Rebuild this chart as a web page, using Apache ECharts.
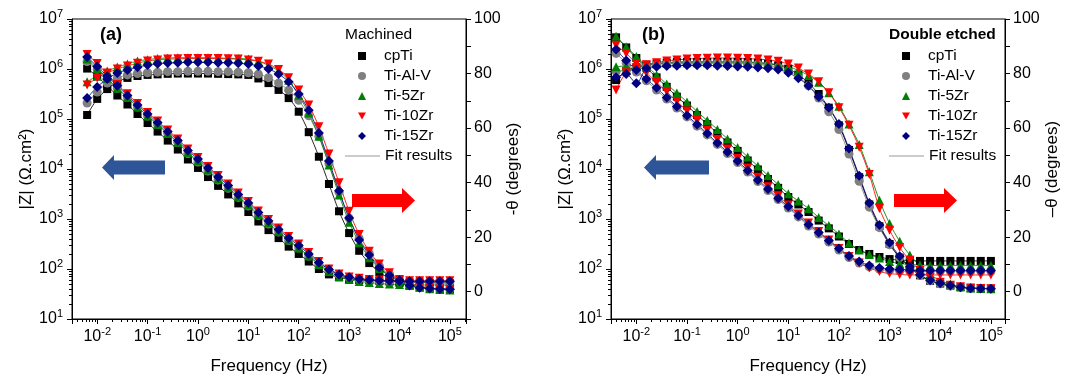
<!DOCTYPE html>
<html>
<head>
<meta charset="utf-8">
<title>Bode plots</title>
<script src="https://cdn.jsdelivr.net/npm/echarts@6.0.0/dist/echarts.min.js"></script>
<style>
  html, body { margin: 0; padding: 0; background: #fff; }
  #chart { width: 1072px; height: 385px; }
</style>
</head>
<body>
<div id="chart"></div>
<script>
  // frequencies (Hz)
  const freqA = [0.00631, 0.01, 0.0158, 0.0251, 0.0398, 0.0631, 0.1, 0.158, 0.251, 0.398, 0.631, 1, 1.58, 2.51, 3.98, 6.31, 10, 15.8, 25.1, 39.8, 63.1, 100, 158, 251, 398, 631, 1000, 1585, 2512, 3981, 6310, 10000, 15850, 25120, 39810, 63100, 100000];
  const freqB = [0.00398, 0.00631, 0.01, 0.0158, 0.0251, 0.0398, 0.0631, 0.1, 0.158, 0.251, 0.398, 0.631, 1, 1.58, 2.51, 3.98, 6.31, 10, 15.8, 25.1, 39.8, 63.1, 100, 158, 251, 398, 631, 1000, 1585, 2512, 3981, 6310, 10000, 15850, 25120, 39810, 63100, 100000];

  // (a) Machined - |Z| (ohm.cm2)
  const zCpTiA = [1.02e6, 7.1e5, 4.6e5, 2.95e5, 1.95e5, 1.26e5, 8.3e4, 5.6e4, 3.7e4, 2.45e4, 1.55e4, 1.05e4, 6.9e3, 4.6e3, 3.1e3, 2.05e3, 1.38e3, 890, 600, 415, 280, 200, 141, 100, 78, 68, 63, 60, 59, 57.5, 56, 55, 54, 54, 53, 53, 52];
  const zTiAlVA = [1.41e6, 9.8e5, 6.3e5, 4.1e5, 2.7e5, 1.74e5, 1.15e5, 7.8e4, 5.1e4, 3.4e4, 2.04e4, 1.38e4, 9.1e3, 6.0e3, 4.1e3, 2.7e3, 1.82e3, 1.17e3, 790, 550, 370, 263, 182, 126, 93, 76, 66, 62, 59, 57.5, 57, 56, 56, 55.5, 55, 55, 55];
  const zTi5ZrA = [1.58e6, 1.02e6, 6.5e5, 4.1e5, 2.7e5, 1.74e5, 1.15e5, 7.8e4, 5.1e4, 3.4e4, 2.14e4, 1.45e4, 9.5e3, 6.3e3, 4.3e3, 2.8e3, 1.9e3, 1.23e3, 830, 560, 380, 263, 182, 123, 89, 71, 62, 56, 54, 51, 50, 49, 49, 48, 48, 48, 48];
  const zTi10ZrA = [1.95e6, 1.29e6, 7.9e5, 4.9e5, 3.2e5, 2.05e5, 1.35e5, 9.1e4, 6.0e4, 4.0e4, 2.5e4, 1.7e4, 1.12e4, 7.4e3, 5.0e3, 3.3e3, 2.24e3, 1.45e3, 980, 660, 447, 316, 214, 141, 100, 79, 69, 65, 62, 60, 59, 58, 58, 58, 58, 58, 58];
  const zTi15ZrA = [1.74e6, 1.12e6, 7.2e5, 4.6e5, 2.95e5, 1.9e5, 1.26e5, 8.5e4, 5.6e4, 3.7e4, 2.35e4, 1.58e4, 1.05e4, 6.9e3, 4.7e3, 3.1e3, 2.1e3, 1.35e3, 910, 620, 415, 295, 200, 135, 98, 78, 68, 63, 60, 59, 58, 57, 57, 57, 57, 57, 57];

  // (a) Machined - phase angle (-theta, degrees)
  const phCpTiA = [64.8, 70.7, 74.3, 76.9, 78.4, 79.1, 79.5, 79.7, 79.9, 80.0, 80.0, 80.0, 80.0, 79.9, 79.8, 79.7, 79.5, 78.2, 76.5, 74.0, 71.0, 66.0, 58.5, 49.5, 39.5, 29.5, 21.5, 15.0, 10.5, 7.2, 4.8, 3.2, 2.2, 1.6, 1.2, 1.0, 0.9];
  const phTiAlVA = [69.2, 73.2, 76.5, 78.4, 79.5, 80.0, 80.3, 80.5, 80.7, 80.7, 80.8, 80.8, 80.8, 80.7, 80.7, 80.5, 80.3, 79.8, 78.5, 76.5, 73.9, 70.2, 64.5, 57.0, 47.0, 36.5, 27.0, 19.5, 14.0, 9.5, 6.5, 4.3, 2.8, 1.9, 1.4, 1.1, 1.0];
  const phTi5ZrA = [77.0, 79.1, 80.9, 82.4, 83.5, 84.6, 85.1, 85.5, 85.7, 85.8, 85.8, 85.8, 85.8, 85.7, 85.6, 85.5, 85.3, 84.5, 83.0, 81.0, 77.5, 72.0, 65.5, 57.0, 46.5, 35.5, 25.5, 18.0, 12.5, 8.5, 5.8, 3.8, 2.4, 1.6, 1.1, 0.8, 0.6];
  const phTi10ZrA = [75.8, 78.4, 80.2, 81.7, 82.8, 83.8, 84.6, 85.0, 85.3, 85.4, 85.5, 85.5, 85.5, 85.5, 85.4, 85.3, 85.0, 84.5, 83.5, 81.5, 78.5, 74.0, 68.5, 60.5, 50.5, 40.0, 29.5, 21.0, 14.8, 10.2, 7.0, 4.5, 3.0, 2.0, 1.4, 1.0, 0.8];
  const phTi15ZrA = [71.0, 75.1, 78.0, 80.2, 81.3, 82.3, 83.1, 83.6, 83.9, 84.0, 84.1, 84.1, 84.1, 84.0, 84.0, 83.8, 83.5, 82.8, 81.7, 79.8, 77.0, 72.5, 66.5, 58.2, 47.9, 37.0, 27.0, 19.0, 13.5, 8.9, 6.0, 4.2, 2.3, 1.5, 1.2, 1.0, 0.9];

  // (b) Double etched - |Z| (ohm.cm2)
  const zCpTiB = [4.3e6, 2.7e6, 1.66e6, 1.05e6, 6.8e5, 4.4e5, 2.8e5, 1.86e5, 1.2e5, 7.9e4, 5.2e4, 3.4e4, 2.3e4, 1.48e4, 9.8e3, 6.3e3, 4.2e3, 2.75e3, 1.95e3, 1.38e3, 930, 650, 447, 316, 240, 200, 174, 158, 151, 148, 145, 145, 145, 145, 145, 145, 145, 145];
  const zTiAlVB = [2.05e6, 1.32e6, 8.7e5, 5.8e5, 3.8e5, 2.5e5, 1.66e5, 1.1e5, 7.2e4, 4.8e4, 3.1e4, 2.04e4, 1.35e4, 8.7e3, 5.6e3, 3.7e3, 2.45e3, 1.66e3, 1.1e3, 725, 500, 347, 240, 170, 132, 110, 98, 93, 91, 89, 89, 89, 89, 89, 89, 89, 89, 89];
  const zTi5ZrB = [4.5e6, 2.8e6, 1.78e6, 1.15e6, 7.6e5, 5.0e5, 3.3e5, 2.2e5, 1.41e5, 9.3e4, 6.2e4, 4.0e4, 2.7e4, 1.74e4, 1.15e4, 7.4e3, 4.9e3, 3.2e3, 2.3e3, 1.62e3, 1.07e3, 740, 500, 331, 240, 195, 166, 141, 129, 123, 120, 118, 117, 117, 117, 117, 117, 117];
  const zTi10ZrB = [3.0e6, 2.05e6, 1.29e6, 8.3e5, 5.4e5, 3.5e5, 2.24e5, 1.45e5, 9.3e4, 6.0e4, 3.9e4, 2.5e4, 1.62e4, 1.05e4, 6.8e3, 4.4e3, 2.9e3, 1.9e3, 1.26e3, 830, 560, 380, 257, 178, 132, 105, 89, 81, 78, 76, 76, 76, 76, 76, 76, 76, 76, 76];
  const zTi15ZrB = [2.45e6, 1.48e6, 9.5e5, 6.3e5, 4.2e5, 2.7e5, 1.78e5, 1.17e5, 7.8e4, 5.1e4, 3.3e4, 2.2e4, 1.45e4, 9.3e3, 6.0e3, 4.0e3, 2.6e3, 1.78e3, 1.17e3, 780, 537, 372, 257, 182, 141, 117, 105, 100, 98, 95, 93, 93, 93, 93, 93, 93, 93, 93];

  // (b) Double etched - phase angle (-theta, degrees)
  const phCpTiB = [77.6, 81.0, 82.3, 83.2, 83.7, 84.0, 84.2, 84.3, 84.3, 84.3, 84.3, 84.3, 84.3, 84.2, 84.0, 83.6, 83.0, 81.8, 79.6, 76.5, 72.5, 67.5, 61.0, 52.0, 42.0, 32.0, 24.0, 17.5, 12.5, 9.0, 6.0, 4.0, 3.0, 2.2, 1.6, 1.3, 1.2, 1.1];
  const phTiAlVB = [80.7, 81.2, 82.0, 82.8, 83.3, 83.6, 83.7, 83.8, 83.8, 83.8, 83.8, 83.8, 83.7, 83.6, 83.4, 83.0, 82.3, 81.0, 78.8, 75.5, 71.0, 66.0, 59.5, 50.5, 40.5, 31.0, 23.5, 17.2, 12.5, 8.8, 6.0, 4.0, 2.9, 2.1, 1.6, 1.3, 1.2, 1.1];
  const phTi5ZrB = [82.5, 82.8, 83.0, 83.3, 83.6, 83.8, 83.9, 84.0, 84.0, 84.0, 84.0, 84.0, 84.0, 84.0, 83.9, 83.7, 83.3, 82.5, 81.2, 79.3, 76.8, 73.0, 68.0, 61.5, 54.0, 44.0, 33.5, 25.0, 18.5, 13.5, 9.5, 6.3, 4.1, 2.8, 1.9, 1.4, 1.2, 1.1];
  const phTi10ZrB = [74.0, 80.3, 81.9, 83.2, 84.0, 84.6, 85.0, 85.3, 85.5, 85.6, 85.7, 85.7, 85.6, 85.5, 85.3, 85.0, 84.5, 83.5, 82.0, 79.8, 77.0, 73.0, 67.5, 61.0, 53.0, 43.0, 30.5, 22.5, 16.2, 11.5, 7.8, 5.2, 3.5, 2.4, 1.8, 1.4, 1.2, 1.1];
  const phTi15ZrB = [78.6, 79.8, 76.4, 81.9, 82.5, 82.8, 82.9, 83.0, 83.0, 83.0, 82.9, 82.8, 82.6, 82.5, 82.2, 81.9, 81.5, 80.3, 78.3, 75.5, 71.5, 67.5, 61.5, 52.5, 42.5, 32.5, 24.5, 18.0, 13.0, 9.2, 6.2, 4.2, 3.1, 2.3, 1.6, 1.3, 1.2, 1.1];

  const names = ['cpTi', 'Ti-Al-V', 'Ti-5Zr', 'Ti-10Zr', 'Ti-15Zr'];
  const colors = ['#000000', '#808080', '#008000', '#ff0000', '#000080'];
  const symbols = ['rect', 'circle', 'triangle', 'triangle', 'diamond'];
  const symbolSizes = [8, 9, 9, 9, 10];
  const symbolRotates = [0, 0, 0, 180, 0];
  // legend icons (down triangle drawn as a path)
  const legendIcons = ['rect', 'circle', 'triangle', 'path://M0,0L10,0L5,9Z', 'diamond'];

  const panels = [
    {freq: freqA, z: [zCpTiA, zTiAlVA, zTi5ZrA, zTi10ZrA, zTi15ZrA], ph: [phCpTiA, phTiAlVA, phTi5ZrA, phTi10ZrA, phTi15ZrA]},
    {freq: freqB, z: [zCpTiB, zTiAlVB, zTi5ZrB, zTi10ZrB, zTi15ZrB], ph: [phCpTiB, phTiAlVB, phTi5ZrB, phTi10ZrB, phTi15ZrB]}
  ];

  const font = 'Liberation Sans, Arial, sans-serif';
  const black = '#000';

  // 10^n labels
  function powLabel(v) {
    const e = Math.log10(v);
    if (Math.abs(e - Math.round(e)) > 1e-6) return '';
    return '{b|10}{s|' + Math.round(e) + '}';
  }
  const powRich = {
    b: {fontSize: 16, lineHeight: 22, color: black, fontFamily: font},
    s: {fontSize: 11, lineHeight: 10, verticalAlign: 'top', color: black, fontFamily: font}
  };

  const grids = [
    {left: 72, top: 19, width: 394, height: 300},
    {left: 611, top: 19, width: 394, height: 300}
  ];

  const xAxis = [0, 1].map(p => ({
    type: 'log',
    logBase: 10,
    gridIndex: p,
    min: 0.00316,
    max: p ? 1.9e5 : 2.09e5,
    name: 'Frequency (Hz)',
    nameLocation: 'middle',
    nameGap: 39,
    nameTextStyle: {fontSize: 17, color: black, fontFamily: font},
    axisLine: {onZero: false, lineStyle: {color: black, width: 1}},
    axisTick: {length: 5, lineStyle: {color: black}},
    minorTick: {show: true, splitNumber: 9, length: 3, lineStyle: {color: black}},
    splitLine: {show: false},
    axisLabel: {margin: 7, formatter: powLabel, rich: powRich}
  }));

  const yAxis = [];
  [0, 1].forEach(p => {
    yAxis.push({
      type: 'log',
      logBase: 10,
      gridIndex: p,
      position: 'left',
      min: 10,
      max: 1e7,
      name: '|Z| (\u03a9.cm\u00b2)',
      nameLocation: 'middle',
      nameGap: 36,
      nameTextStyle: {fontSize: 17, color: black, fontFamily: font},
      axisLine: {show: true, onZero: false, lineStyle: {color: black, width: 1}},
      axisTick: {length: 5, lineStyle: {color: black}},
      minorTick: {show: true, splitNumber: 9, length: 3, lineStyle: {color: black}},
      splitLine: {show: false},
      axisLabel: {margin: 9, formatter: powLabel, rich: powRich}
    });
    yAxis.push({
      type: 'value',
      gridIndex: p,
      position: 'right',
      min: -10,
      max: 100,
      interval: 10,
      name: p ? '\u2013\u03b8 (degrees)' : '-\u03b8 (degrees)',
      nameLocation: 'middle',
      nameRotate: 90,
      nameGap: 30,
      nameTextStyle: {fontSize: 17, color: black, fontFamily: font},
      axisLine: {show: true, onZero: false, lineStyle: {color: black, width: 1}},
      axisTick: {length: 5, lineStyle: {color: black}},
      splitLine: {show: false},
      axisLabel: {
        margin: 8, fontSize: 16, color: black, fontFamily: font,
        formatter: v => (v >= 0 && v % 20 === 0) ? String(v) : ''
      }
    });
  });

  const series = [];
  panels.forEach((panel, p) => {
    // fit results: thin smooth lines through the measured points
    [1, 0, 2, 3, 4].forEach(i => {
      [panel.z[i], panel.ph[i]].forEach((vals, k) => {
        series.push({
          type: 'line',
          name: 'Fit results',
          xAxisIndex: p,
          yAxisIndex: p * 2 + k,
          data: panel.freq.map((f, j) => [f, vals[j]]),
          smooth: 0.3,
          symbol: 'none',
          silent: true,
          z: 2,
          lineStyle: {width: 1, color: colors[i], opacity: 0.85},
          itemStyle: {color: colors[i]}
        });
      });
    });
    // measured points
    names.forEach((name, i) => {
      [panel.z[i], panel.ph[i]].forEach((vals, k) => {
        series.push({
          type: 'scatter',
          name: name,
          xAxisIndex: p,
          yAxisIndex: p * 2 + k,
          data: panel.freq.map((f, j) => [f, vals[j]]),
          symbol: symbols[i],
          symbolSize: symbolSizes[i],
          symbolRotate: symbolRotates[i],
          z: 3,
          itemStyle: {color: colors[i], opacity: 1}
        });
      });
    });
  });

  const legendText = {
    fontSize: 15.5, color: black, fontFamily: font,
    rich: {t: {fontSize: 15.5, lineHeight: 16, padding: [0, 0, 0, 13], color: black, fontFamily: font}}
  };
  const legend = [];
  [345, 889].forEach(left => {
    // sample symbols (small icons, text pushed right to line up with the fit entry)
    legend.push({
      orient: 'vertical',
      left: left + 13,
      top: 48,
      padding: 0,
      itemGap: 4,
      itemWidth: 8,
      itemHeight: 8,
      selectedMode: false,
      formatter: name => '{t|' + name + '}',
      textStyle: legendText,
      data: names.map((name, i) => ({name: name, icon: legendIcons[i], itemStyle: {color: colors[i]}}))
    });
    // fit line entry
    legend.push({
      orient: 'vertical',
      left: left,
      top: 148,
      padding: 0,
      itemWidth: 35,
      itemHeight: 8,
      selectedMode: false,
      textStyle: {fontSize: 15.5, lineHeight: 16, color: black, fontFamily: font},
      data: [{name: 'Fit results', icon: 'path://M0,0L35,0L35,1L0,1Z', itemStyle: {color: '#9a9a9a'}}]
    });
  });

  const title = [
    {text: '(a)', left: 100, top: 26, padding: 0, textStyle: {fontSize: 18, fontWeight: 'bold', color: black, fontFamily: font}},
    {text: '(b)', left: 642, top: 26, padding: 0, textStyle: {fontSize: 18, fontWeight: 'bold', color: black, fontFamily: font}},
    {text: 'Double etched', left: 889, top: 27, padding: 0, textStyle: {fontSize: 15.5, fontWeight: 'bold', color: black, fontFamily: font}}
  ];

  // arrows pointing to the axis each curve family belongs to
  function leftArrow(x0, x1, y) {
    return {type: 'polygon', silent: true,
      shape: {points: [[x0, y], [x0 + 12, y - 12.5], [x0 + 12, y - 7], [x1, y - 7], [x1, y + 7], [x0 + 12, y + 7], [x0 + 12, y + 12.5]]},
      style: {fill: '#2e5597'}};
  }
  function rightArrow(x0, x1, y) {
    return {type: 'polygon', silent: true,
      shape: {points: [[x1, y], [x1 - 13, y - 12.5], [x1 - 13, y - 6.5], [x0, y - 6.5], [x0, y + 6.5], [x1 - 13, y + 6.5], [x1 - 13, y + 12.5]]},
      style: {fill: '#ff0000'}};
  }

  const chart = echarts.init(document.getElementById('chart'));
  chart.setOption({
    animation: false,
    backgroundColor: '#fff',
    textStyle: {fontFamily: font},
    title: title,
    legend: legend,
    grid: grids.map(g => Object.assign({show: true, borderColor: black, borderWidth: 1, backgroundColor: 'transparent'}, g)),
    xAxis: xAxis,
    yAxis: yAxis,
    series: series,
    graphic: [
      {type: 'text', left: 345, top: 27, silent: true,
        style: {text: 'Machined', font: 'normal 400 15.5px "Liberation Sans", Arial, sans-serif', fill: black}},
      leftArrow(102, 165, 167.5),
      rightArrow(352, 415, 200.5),
      leftArrow(644, 709, 167.5),
      rightArrow(894, 957, 200.5)
    ]
  });
</script>
</body>
</html>
